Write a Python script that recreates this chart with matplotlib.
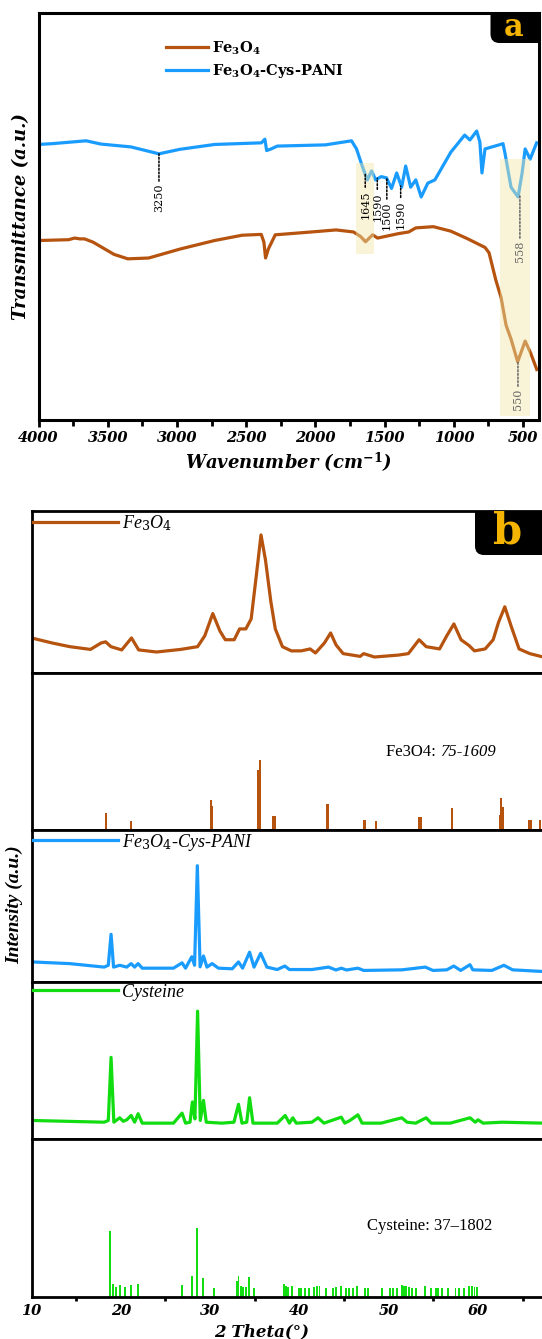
import numpy as np
import matplotlib
matplotlib.use('Agg')
import matplotlib.pyplot as plt
from matplotlib.patches import FancyBboxPatch
from matplotlib.transforms import IdentityTransform
from matplotlib.ticker import MultipleLocator

plt.rcParams['mathtext.fontset'] = 'custom'
plt.rcParams['mathtext.rm'] = 'DejaVu Serif'
plt.rcParams['mathtext.bf'] = 'DejaVu Serif:bold'
plt.rcParams['mathtext.it'] = 'Liberation Serif:italic'
plt.rcParams['mathtext.bfit'] = 'DejaVu Serif:italic:bold'

BROWN = '#B5530F'
BLUE = '#1A9CFF'
GREEN = '#11DD11'
HILITE = '#F2E8A7'

# ---------------- FTIR data (panel a) ----------------
ftir_fe3o4_wn = [4000, 3782, 3740, 3700, 3668, 3606, 3455, 3355, 3204, 2978, 2728, 2529,
                 2391, 2372, 2360, 2340, 2290, 2029, 1851, 1725, 1674, 1638, 1587, 1551,
                 1399, 1326, 1275, 1148, 1022, 899, 775, 746, 697, 659, 623, 587, 539,
                 485, 446, 401]
ftir_fe3o4_t = [44.1, 44.3, 44.7, 44.5, 44.5, 43.7, 40.7, 39.6, 39.8, 42.0, 44.1, 45.4,
                45.6, 43.7, 39.8, 42.0, 45.5, 46.2, 46.7, 46.2, 45.1, 43.8, 45.5, 44.7,
                45.8, 46.2, 47.2, 47.5, 46.4, 44.5, 42.4, 41.1, 34.4, 30.1, 23.3, 19.9, 14.3,
                19.4, 16.5, 12.4]

ftir_pani_wn = [4000, 3900, 3656, 3550, 3333, 3130, 2980, 2728, 2390, 2365, 2352, 2320,
                2275, 1927, 1739, 1703, 1662, 1625, 1594, 1565, 1525, 1487, 1450, 1413,
                1377, 1348, 1312, 1275, 1236, 1188, 1137, 1022, 922, 884, 835, 812, 797,
                775, 673, 645, 630, 587, 536, 507, 485, 449, 402]
ftir_pani_t = [67.7, 67.9, 68.6, 67.8, 67.1, 65.4, 66.5, 67.7, 68.1, 69.0, 66.2, 66.6,
               67.3, 67.6, 68.6, 66.6, 62.4, 59.0, 61.2, 59.0, 59.8, 59.5, 56.9, 60.7,
               57.2, 62.4, 57.2, 59.0, 54.8, 58.2, 59.0, 65.8, 70.0, 68.8, 71.0, 68.3, 60.7,
               66.6, 67.6, 67.9, 65.4, 57.2, 54.8, 60.7, 66.6, 64.1, 68.1]

ftir_labels = ['3250', '1645', '1590', '1500', '1590', '558', '550']
ftir_label_wn = [3130, 1640, 1553, 1484, 1384, 523, 537]
ftir_label_curve = [65.4, 60.4, 59.4, 59.5, 57.5, 55.2, 14.3]
ftir_label_text = [58.0, 56.5, 56.0, 53.6, 54.0, 44.0, 7.6]
ftir_label_color = ['black', 'black', 'black', 'black', 'black', '#666666', '#666666']

# ---------------- XRD data (panel b) ----------------
xrd_fe3o4_tt = [10.0, 12.3, 14.3, 16.6, 17.8, 18.3, 18.9, 20.1, 21.2, 22.0, 24.0, 26.7,
                28.6, 29.4, 30.3, 31.1, 31.7, 32.7, 33.3, 34.0, 34.6, 35.2, 35.7, 36.2,
                36.8, 37.3, 38.1, 39.1, 40.2, 41.2, 41.8, 42.8, 43.5, 44.1, 44.9, 46.8,
                47.2, 48.4, 51.1, 52.2, 53.4, 54.2, 55.7, 56.5, 57.3, 58.1, 59.0, 59.6,
                60.8, 61.7, 62.3, 63.0, 63.7, 64.6, 65.8, 67.3, 68.0]
xrd_fe3o4_i = [21.7, 18.6, 16.3, 14.6, 18.6, 19.3, 16.3, 14.3, 21.7, 14.3, 13.0, 14.6,
               16.3, 23.0, 36.8, 26.0, 20.6, 20.6, 27.3, 27.3, 33.5, 61.5, 85.5, 70.0,
               44.3, 27.3, 16.3, 13.7, 13.7, 14.9, 12.4, 18.6, 24.8, 17.4, 12.0, 10.3,
               12.0, 9.9, 11.1, 12.0, 20.6, 16.3, 14.9, 23.0, 30.4, 20.6, 17.0, 13.7,
               14.9, 20.6, 31.4, 41.0, 29.2, 14.9, 12.0, 9.9, 9.5]

ref_fe3o4_tt = [18.35, 21.18, 30.1, 30.25, 35.42, 35.6, 37.05, 37.2, 43.15, 47.2, 47.35,
                48.55, 53.4, 53.6, 57.1, 62.45, 62.6, 62.75, 65.7, 65.9, 66.9]
ref_fe3o4_i = [10.8, 5.7, 19.0, 15.0, 38.0, 44.5, 8.6, 8.6, 16.5, 6.3, 6.3,
               5.7, 8.0, 8.0, 14.0, 9.6, 20.3, 14.5, 6.3, 6.3, 6.3]

xrd_pani_tt = [10.08, 14.26, 18.14, 18.6, 18.91, 19.19, 19.88, 20.66, 21.16, 21.55, 21.94,
               22.4, 25.9, 26.86, 27.25, 27.95, 28.26, 28.57, 28.88, 29.26, 29.65, 30.23,
               30.93, 32.48, 33.18, 33.64, 34.42, 34.92, 35.66, 36.36, 37.52, 38.37, 38.88,
               41.4, 43.26, 44.1, 44.69, 45.27, 46.55, 47.2, 51.47, 54.1, 54.96, 56.5,
               57.29, 58.06, 59.1, 59.42, 61.55, 62.9, 63.88, 67.3]
xrd_pani_i = [13.2, 12.1, 9.8, 11.0, 31.4, 9.8, 11.0, 9.8, 12.1, 9.8, 12.1,
              9.1, 9.1, 12.6, 9.1, 16.6, 11.0, 76.5, 10.0, 17.1, 9.8, 12.1,
              9.1, 8.7, 13.2, 9.1, 19.6, 9.8, 18.9, 9.8, 8.2, 10.5, 8.2,
              8.2, 9.8, 7.9, 9.1, 7.9, 9.1, 7.6, 8.0, 9.8, 7.6, 8.0,
              10.5, 7.6, 11.4, 8.0, 7.6, 11.0, 8.0, 6.9]

xrd_cys_tt = [10.08, 18.14, 18.6, 18.91, 19.22, 19.88, 20.27, 20.66, 21.16, 21.55, 21.94,
              22.4, 25.9, 26.86, 27.25, 27.75, 28.02, 28.3, 28.6, 28.9, 29.26, 29.57,
              31.32, 32.67, 33.18, 33.57, 34.1, 34.42, 34.8, 37.52, 38.41, 38.88, 39.26,
              39.65, 41.4, 42.09, 42.75, 44.69, 45.08, 45.66, 46.55, 47.02, 49.15, 51.47,
              52.05, 53.02, 54.19, 54.77, 56.9, 59.11, 59.69, 60.0, 60.58, 62.71, 67.29]
xrd_cys_i = [11.8, 10.7, 11.8, 52.0, 10.7, 13.5, 11.3, 12.2, 15.0, 10.7, 16.1,
             10.1, 10.1, 16.5, 10.1, 10.7, 23.6, 12.8, 81.4, 11.8, 24.6, 10.7,
             10.1, 10.7, 22.1, 10.1, 10.7, 26.3, 10.1, 10.1, 15.0, 10.1, 13.5,
             10.1, 10.7, 13.5, 10.1, 13.9, 10.1, 11.8, 15.4, 10.1, 10.1, 13.5,
             10.7, 10.1, 13.5, 10.1, 10.1, 13.5, 10.7, 12.2, 10.1, 10.7, 10.1]

ref_cys_tt = [18.84, 19.15, 19.5, 19.88, 20.47, 21.12, 21.9, 26.82, 27.98, 28.49, 29.22,
              30.43, 33.06, 33.18, 33.45, 33.72, 34.03, 34.38, 34.92, 38.29, 38.49, 38.76,
              39.19, 39.92, 40.23, 40.62, 41.09, 41.59, 41.98, 42.25, 43.02, 43.8, 44.11,
              44.61, 45.27, 45.58, 46.05, 46.43, 47.4, 47.67, 49.26, 50.12, 50.5, 50.89,
              51.47, 51.67, 51.94, 52.25, 52.64, 53.02, 54.11, 54.77, 55.27, 55.54, 55.93,
              56.59, 57.48, 57.87, 58.45, 59.03, 59.3, 59.61, 59.92]
ref_cys_i = [41.5, 8.5, 6.4, 7.4, 6.4, 7.4, 8.1, 7.9, 13.4, 43.6, 12.1,
             6.0, 10.0, 13.4, 7.0, 6.4, 6.4, 12.8, 6.0, 8.1, 6.8, 6.4,
             6.8, 6.0, 6.0, 6.0, 6.0, 6.4, 6.8, 6.8, 6.0, 6.0, 6.4,
             6.8, 6.0, 6.0, 6.0, 7.0, 6.0, 6.0, 6.0, 6.0, 6.0, 6.0,
             7.4, 7.0, 6.8, 6.4, 6.0, 6.0, 7.0, 6.0, 6.0, 6.0, 6.0,
             6.0, 6.0, 6.0, 6.0, 7.0, 6.8, 6.4, 6.4]

ftir_ticks = [4000, 3500, 3000, 2500, 2000, 1500, 1000, 500]
xrd_ticks = [10, 20, 30, 40, 50, 60]

# ---------------- figure ----------------
W, H = 542, 1339
fig = plt.figure(figsize=(W / 100, H / 100), dpi=100)


def px_rect(left, top, right, bottom):
    return [left / W, 1 - bottom / H, (right - left) / W, (bottom - top) / H]


tickfont = dict(fontfamily='DejaVu Serif', fontweight='bold', fontstyle='italic', fontsize=10.5)

# ---- panel a ----
axa = fig.add_axes(px_rect(38.5, 13, 539, 420))
axa.plot(ftir_fe3o4_wn, ftir_fe3o4_t, color=BROWN, lw=2.3, label=r'Fe$_{\mathbf{3}}$O$_{\mathbf{4}}$', zorder=2)
axa.plot(ftir_pani_wn, ftir_pani_t, color=BLUE, lw=2.3, label=r'Fe$_{\mathbf{3}}$O$_{\mathbf{4}}$-Cys-PANI', zorder=2)
axa.axvspan(1705, 1580, ymin=0.407, ymax=0.632, color=HILITE, alpha=0.45, lw=0, zorder=3)
axa.axvspan(667, 449, ymin=0.010, ymax=0.641, color=HILITE, alpha=0.45, lw=0, zorder=3)
for lab, xw, yc, yt, col in zip(ftir_labels, ftir_label_wn, ftir_label_curve, ftir_label_text, ftir_label_color):
    axa.annotate(lab, xy=(xw, yc), xytext=(xw, yt), rotation=90, ha='center', va='top',
                 fontsize=8, fontfamily='DejaVu Serif', color=col, zorder=4,
                 arrowprops=dict(arrowstyle='-', linestyle=(0, (1.2, 1.2)), color=col, lw=1.1,
                                 shrinkA=0, shrinkB=0))
axa.set_xlim(4000, 385)
axa.set_ylim(0, 100)
axa.set_yticks([])
axa.set_xticks(ftir_ticks, labels=[str(t) for t in ftir_ticks], **tickfont)
axa.xaxis.set_minor_locator(MultipleLocator(250))
axa.tick_params(axis='x', which='major', direction='out', length=5, width=2, pad=3)
axa.tick_params(axis='x', which='minor', direction='out', length=4, width=2)
for s in axa.spines.values():
    s.set_linewidth(2.2)
axa.set_xlabel(r'Wavenumber (cm$^{\mathbf{-1}}$)', fontfamily='DejaVu Serif', fontweight='bold',
               fontstyle='italic', fontsize=13, labelpad=4)
axa.set_ylabel('Transmittance (a.u.)', fontfamily='DejaVu Serif', fontweight='bold',
               fontstyle='italic', fontsize=13, labelpad=6)
leg = axa.legend(loc='upper left', bbox_to_anchor=(0.254, 0.935), frameon=False, borderaxespad=0,
                 borderpad=0, handlelength=2.9, handletextpad=0.25, labelspacing=0.35,
                 prop=dict(family='DejaVu Serif', weight='bold', size=10.5))


def label_box(ax, x0, y0, w, h, letter, fs, cx, cy):
    p = FancyBboxPatch((x0, H - y0 - h), w, h, boxstyle='round,pad=0,rounding_size=9',
                       transform=IdentityTransform(), fc='black', ec='none', zorder=6)
    ax.add_artist(p)
    p.set_clip_path(ax.patch)
    ax.text(cx, H - cy, letter, transform=IdentityTransform(), ha='center', va='center',
            color='#F5B400', fontsize=fs, fontweight='bold', fontfamily='DejaVu Serif', zorder=7)


label_box(axa, 490.5, -10, 70, 53, 'a', 22, 514, 27)

# ---- panel b ----
bounds = [511.5, 673, 830, 982, 1139, 1297]
left_b = 31.5
right_b = left_b + 60 * 8.93
axes_b = []
for i in range(5):
    ax = fig.add_axes(px_rect(left_b, bounds[i], right_b, bounds[i + 1]))
    ax.set_xlim(10, 70)
    ax.set_ylim(0, 100)
    ax.set_yticks([])
    for s in ax.spines.values():
        s.set_linewidth(2.0)
    axes_b.append(ax)

legprop = dict(family='Liberation Serif', style='italic', size=13)
legkw = dict(loc='upper left', bbox_to_anchor=(0, 1.0), frameon=False, borderaxespad=0,
             borderpad=0.1, handlelength=4.7, handletextpad=0.2, prop=legprop)

ax1, ax2, ax3, ax4, ax5 = axes_b
ax1.plot(xrd_fe3o4_tt, xrd_fe3o4_i, color=BROWN, lw=2.3, label=r'Fe$_{\mathit{3}}$O$_{\mathit{4}}$')
ax1.legend(**legkw)
label_box(ax1, 475, 490, 90, 65, 'b', 30, 508, 532)

ax2.bar(ref_fe3o4_tt, ref_fe3o4_i, width=0.25, color=BROWN, lw=0)
t1 = ax2.text(49.75, 50, 'Fe3O4: ', fontfamily='Liberation Serif', fontsize=12, va='center', ha='left')
ax2.annotate('75-1609', xy=(1, 0), xycoords=t1, va='bottom', ha='left',
             fontfamily='Liberation Serif', fontstyle='italic', fontsize=12)

ax3.plot(xrd_pani_tt, xrd_pani_i, color=BLUE, lw=2.3, label=r'Fe$_{\mathit{3}}$O$_{\mathit{4}}$-Cys-PANI')
ax3.legend(**legkw)

ax4.plot(xrd_cys_tt, xrd_cys_i, color=GREEN, lw=2.3, label='Cysteine')
ax4.legend(**legkw)

ax5.bar(ref_cys_tt, ref_cys_i, width=0.22, color=GREEN, lw=0)
ax5.text(47.6, 44.7, 'Cysteine: 37–1802', fontfamily='Liberation Serif', fontsize=12,
         va='center', ha='left')

for ax in axes_b[:-1]:
    ax.set_xticks([])
ax5.set_xticks(xrd_ticks, labels=[str(t) for t in xrd_ticks], **tickfont)
ax5.xaxis.set_minor_locator(MultipleLocator(5))
ax5.tick_params(axis='x', which='major', direction='out', length=0, pad=5)
ax5.tick_params(axis='x', which='minor', direction='out', length=3, width=2)
ax5.set_xlabel('2 Theta(°)', fontfamily='DejaVu Serif', fontweight='bold', fontstyle='italic',
               fontsize=12)
ax5.xaxis.set_label_coords((262 - left_b) / (right_b - left_b), -0.165)

fig.text(15 / W, 1 - 905 / H, 'Intensity (a.u.)', rotation=90, ha='center', va='center',
         fontfamily='Liberation Serif', fontweight='bold', fontstyle='italic', fontsize=14)

fig.savefig('out.png', dpi=100)
